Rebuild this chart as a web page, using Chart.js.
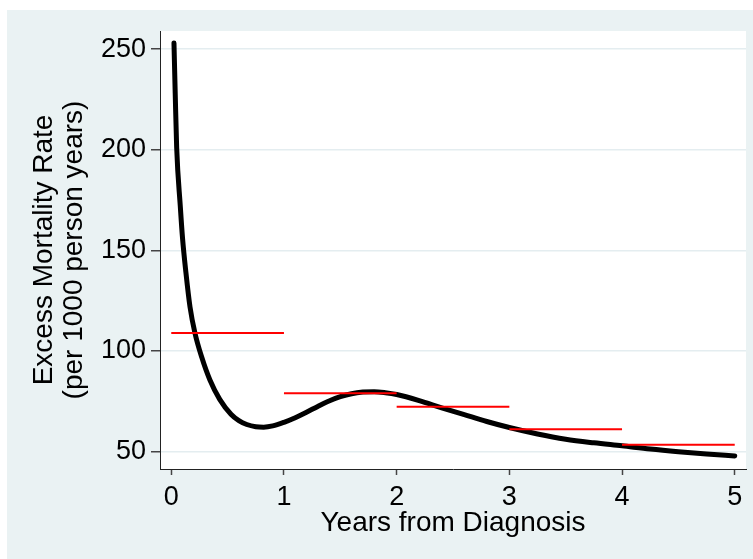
<!DOCTYPE html>
<html>
<head>
<meta charset="utf-8">
<script src="https://cdn.jsdelivr.net/npm/chart.js@4"></script>
<style>
  html, body { margin: 0; padding: 0; background: #ffffff; }
  #wrap { width: 753px; height: 559px; }
</style>
</head>
<body>
<div id="wrap"><canvas id="c" width="753" height="559"></canvas></div>
<script>
// Smooth excess mortality curve (years, rate per 1000 person years)
const curveYears = [0.024, 0.035, 0.048, 0.08, 0.10, 0.13, 0.166, 0.21, 0.27, 0.343, 0.43, 0.53, 0.60, 0.67, 0.75, 0.82, 0.90, 1.00, 1.10, 1.20, 1.30, 1.40, 1.50, 1.60, 1.70, 1.80, 1.90, 2.00, 2.20, 2.40, 2.60, 2.80, 3.00, 3.25, 3.50, 3.75, 4.00, 4.25, 4.50, 4.75, 5.00];
const curveRate  = [253, 228, 201, 172, 156, 139, 122, 109, 97, 85.6, 76.0, 68.6, 65.4, 63.5, 62.4, 62.2, 62.8, 64.6, 66.9, 69.6, 72.5, 75.2, 77.3, 78.8, 79.6, 79.8, 79.3, 78.4, 75.4, 71.8, 68.4, 65.0, 62.0, 58.8, 56.2, 54.4, 52.9, 51.3, 50.0, 48.9, 47.9];

// Life-table (interval) estimates
const intervalStart = [0, 1, 2, 3, 4];
const intervalEnd   = [1, 2, 3, 4, 5];
const intervalRate  = [109, 79, 72.3, 61.2, 53.5];

const xTicks = [0, 1, 2, 3, 4, 5];
const yTicks = [50, 100, 150, 200, 250];

const curvePts = curveYears.map((x, i) => ({ x: x, y: curveRate[i] }));
const stepPts = [];
intervalStart.forEach((s, i) => {
  stepPts.push({ x: s, y: intervalRate[i] });
  stepPts.push({ x: intervalEnd[i], y: intervalRate[i] });
  stepPts.push({ x: intervalEnd[i], y: null });
});

const bgPlugin = {
  id: 'bg',
  beforeDraw(chart) {
    const ctx = chart.ctx, a = chart.chartArea;
    ctx.save();
    ctx.fillStyle = '#ffffff';
    ctx.fillRect(0, 0, chart.width, chart.height);
    ctx.fillStyle = '#eaf2f3';
    ctx.fillRect(7, 10, chart.width - 7, chart.height - 10);
    ctx.fillStyle = '#ffffff';
    ctx.fillRect(a.left, a.top, a.right - a.left, a.bottom - a.top);
    ctx.restore();
  }
};

const FONT = "'Liberation Sans', Arial, Helvetica, sans-serif";

new Chart(document.getElementById('c'), {
  type: 'line',
  data: {
    datasets: [
      {
        data: stepPts,
        borderColor: '#ff0000',
        borderWidth: 2,
        pointRadius: 0,
        spanGaps: false,
        tension: 0,
        order: 0
      },
      {
        data: curvePts,
        borderColor: '#000000',
        borderWidth: 5,
        pointRadius: 0,
        cubicInterpolationMode: 'monotone',
        borderCapStyle: 'round',
        borderJoinStyle: 'round',
        order: 1
      }
    ]
  },
  options: {
    responsive: false,
    animation: false,
    devicePixelRatio: 1,
    layout: { padding: { left: 0, top: 31, right: 7, bottom: 0 } },
    plugins: { legend: { display: false }, tooltip: { enabled: false } },
    scales: {
      x: {
        type: 'linear',
        min: -0.1,
        max: 5.1,
        afterBuildTicks(scale) { scale.ticks = xTicks.map(v => ({ value: v })); },
        afterFit(scale) { scale.height = 90; },
        grid: {
          drawOnChartArea: false,
          drawTicks: true,
          tickLength: 6,
          tickColor: '#444444',
          tickWidth: 1.5
        },
        border: { display: true, color: '#222222', width: 1 },
        ticks: {
          color: '#000000',
          padding: 6,
          maxRotation: 0,
          font: { family: FONT, size: 27 },
          callback: v => String(v)
        },
        title: {
          display: true,
          text: 'Years from Diagnosis',
          color: '#000000',
          font: { family: FONT, size: 28, lineHeight: 1.05 },
          padding: { top: 0, bottom: 21 }
        }
      },
      y: {
        type: 'linear',
        min: 41.4,
        max: 259,
        afterBuildTicks(scale) { scale.ticks = yTicks.map(v => ({ value: v })); },
        afterFit(scale) { scale.width = 160; },
        grid: {
          color: '#e4edf0',
          lineWidth: 1.5,
          drawTicks: true,
          tickLength: 9,
          tickColor: '#444444',
          tickWidth: 1.5
        },
        border: { display: true, color: '#222222', width: 1 },
        ticks: {
          color: '#000000',
          padding: 5,
          font: { family: FONT, size: 27 },
          callback: v => String(v)
        },
        title: {
          display: true,
          text: ['Excess Mortality Rate', '(per 1000 person years)'],
          color: '#000000',
          font: { family: FONT, size: 28, lineHeight: 1.05 },
          padding: { top: 30, bottom: 0 }
        }
      }
    }
  },
  plugins: [bgPlugin]
});
</script>
</body>
</html>
